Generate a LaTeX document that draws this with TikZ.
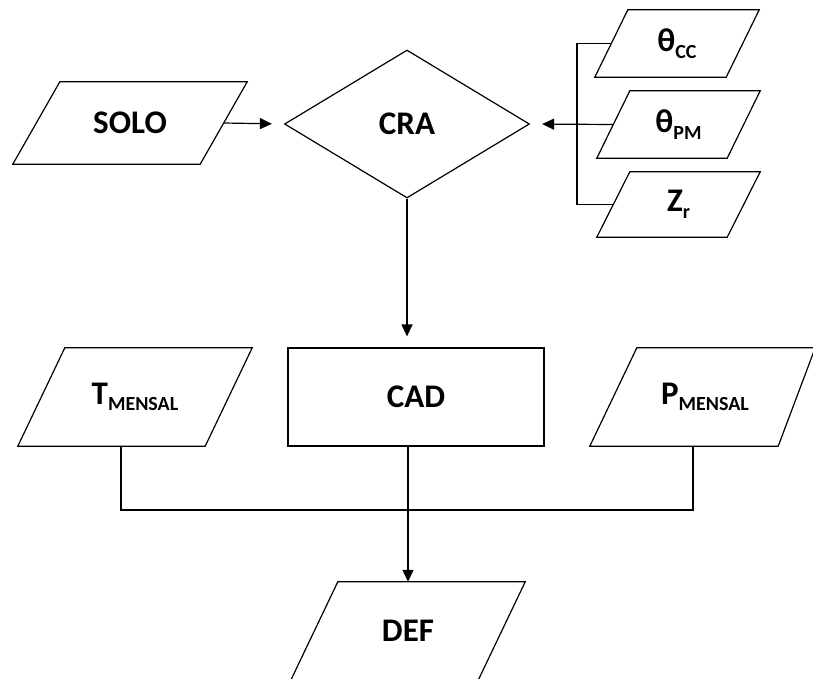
\documentclass[tikz,border=0pt]{standalone}
\usepackage{fontspec}
\setmainfont{Carlito}
\usetikzlibrary{shapes.geometric,arrows.meta,calc}
\newcommand\mainsz{\fontsize{33}{33}\selectfont\bfseries}
\newcommand\subsz{\fontsize{20}{20}\selectfont\bfseries}
\newcommand\sbs[1]{\raisebox{-6.5pt}{\subsz #1}}
\newcommand\drawpg[3]{\draw[outline] ($(#1.north west)+(#2,0)$) -- ($(#1.north east)+(#3,0)$) -- ($(#1.south east)-(#3,0)$) -- ($(#1.south west)-(#2,0)$) -- cycle;}
\begin{document}
\begin{tikzpicture}[x=1pt,y=-1pt,
  outline/.style={draw=black,line width=1.2pt,line join=miter},
  lbl/.style={font=\mainsz,inner sep=0pt,text=black},
  conn/.style={draw=black,line width=1.2pt},
  arr/.style={conn,-{Triangle[length=12pt,width=11pt]}}]
\useasboundingbox[fill=white] (0,0) rectangle (813,678);
% input parallelograms
\node[lbl,minimum width=187pt,minimum height=82pt] (solo) at (130,123) {SOLO};
\drawpg{solo}{23.5}{23.5}
\node[lbl,minimum width=131pt,minimum height=67pt] (cc) at (677,43.5) {θ\sbs{CC}};
\drawpg{cc}{16.5}{16.5}
\node[lbl,minimum width=130pt,minimum height=67pt] (pm) at (678.5,124.5) {θ\sbs{PM}};
\drawpg{pm}{16.5}{16.5}
\node[lbl,minimum width=130pt,minimum height=65pt] (zr) at (678.5,204.5) {Z\sbs{r}};
\drawpg{zr}{16.5}{16.5}
% decision
\node[lbl,diamond,outline,minimum width=245pt,minimum height=148pt] (cra) at (407,124) {CRA};
% process
\node[lbl,rectangle,outline,minimum width=256pt,minimum height=98pt] (cad) at (416,397) {CAD};
\node[lbl,minimum width=187pt,minimum height=98pt] (tm) at (135,397) {T\sbs{MENSAL}};
\drawpg{tm}{23.5}{23.5}
\node[lbl,minimum width=183pt,minimum height=98pt] (pmn) at (705,397) {P\sbs{MENSAL}};
\drawpg{pmn}{23.5}{18.5}
\node[lbl,minimum width=187pt,minimum height=98pt] (def) at (408,631) {DEF};
\drawpg{def}{23.5}{23.5}
% connectors
\draw[arr,shorten >=12pt] (solo.east) -- (cra.west);
\coordinate (bus) at (577,0);
\draw[conn] (cc.west) -- (cc.west -| bus) -- (zr.west -| bus) -- (zr.west);
\draw[arr,shorten >=12pt] (pm.west) -- (cra.east);
\draw[arr,shorten >=11pt] (cra.south) -- (cra.south |- cad.north);
\coordinate (bar) at (0,510);
\coordinate (tl) at ([xshift=-14pt]tm.south);
\coordinate (pl) at ([xshift=-12pt]pmn.south);
\draw[conn] (tl) -- (tl |- bar) -- (pl |- bar) -- (pl);
\draw[arr] (def.north |- cad.south) -- (def.north);
\end{tikzpicture}
\end{document}
